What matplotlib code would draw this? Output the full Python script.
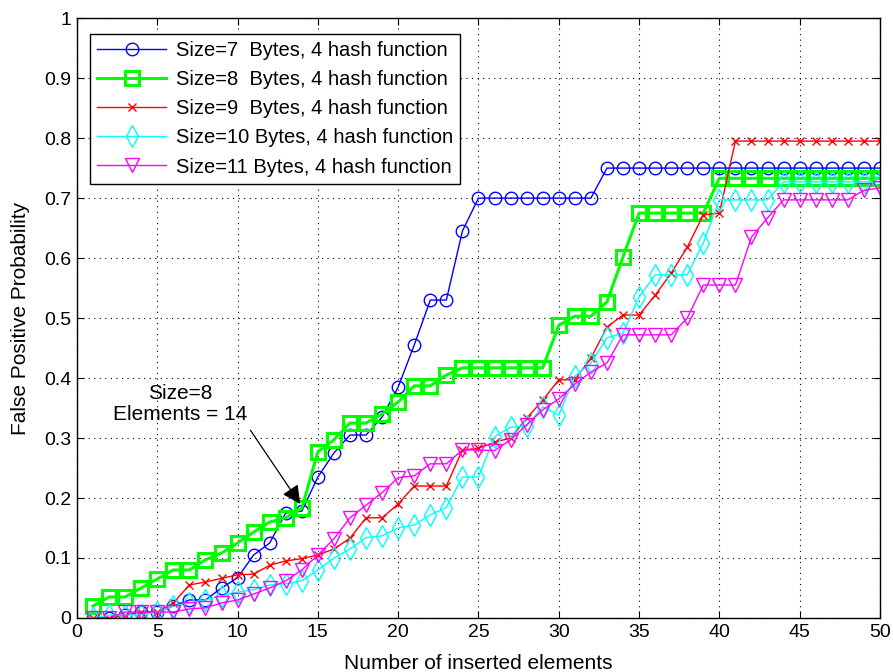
import matplotlib

matplotlib.use("Agg")
import matplotlib.pyplot as plt
import numpy as np

# inserted elements 1..50
n_elements = np.arange(1, 51)

fp_size7 = [0, 0, 0.005, 0.01, 0.01, 0.02, 0.03, 0.03, 0.05, 0.067,
            0.105, 0.125, 0.175, 0.178, 0.235, 0.275, 0.305, 0.305, 0.335, 0.385,
            0.455, 0.53, 0.53, 0.645, 0.70, 0.70, 0.70, 0.70, 0.70, 0.70,
            0.70, 0.70] + [0.75] * 18
fp_size8 = [0.02, 0.035, 0.035, 0.05, 0.065, 0.08, 0.08, 0.097, 0.108, 0.125,
            0.143, 0.16, 0.167, 0.183, 0.277, 0.297, 0.325, 0.325, 0.34, 0.36,
            0.387, 0.387, 0.405] + [0.417] * 6 + [0.488, 0.503, 0.503, 0.527, 0.602] \
           + [0.675] * 5 + [0.733] * 11
fp_size9 = [0, 0, 0.005, 0.01, 0.01, 0.025, 0.055, 0.06, 0.066, 0.072,
            0.073, 0.088, 0.095, 0.099, 0.105, 0.115, 0.133, 0.167, 0.167, 0.19,
            0.22, 0.22, 0.22, 0.28, 0.283, 0.293, 0.30, 0.333, 0.363, 0.397,
            0.397, 0.433, 0.485, 0.505, 0.505, 0.538, 0.575, 0.618, 0.672, 0.675] + [0.795] * 10
fp_size10 = [0, 0.005, 0.005, 0.005, 0.01, 0.02, 0.025, 0.03, 0.037, 0.043,
             0.047, 0.055, 0.057, 0.062, 0.08, 0.10, 0.115, 0.134, 0.137, 0.15,
             0.155, 0.172, 0.184, 0.235, 0.235, 0.302, 0.318, 0.32, 0.352, 0.338,
             0.403, 0.425, 0.467, 0.475, 0.535, 0.572, 0.572, 0.572, 0.625, 0.697,
             0.697, 0.697, 0.697] + [0.727] * 7
fp_size11 = [0, 0, 0.01, 0.01, 0.01, 0.01, 0.015, 0.017, 0.025, 0.03,
             0.04, 0.05, 0.062, 0.08, 0.105, 0.132, 0.167, 0.188, 0.209, 0.234,
             0.237, 0.257, 0.257, 0.28, 0.28, 0.279, 0.297, 0.322, 0.347, 0.365,
             0.39, 0.41, 0.425, 0.472, 0.472, 0.472, 0.472, 0.5, 0.555, 0.555,
             0.555, 0.635, 0.667, 0.697, 0.697, 0.697, 0.697, 0.697, 0.713, 0.717]

labels = [
    "Size=7  Bytes, 4 hash function",
    "Size=8  Bytes, 4 hash function",
    "Size=9  Bytes, 4 hash function",
    "Size=10 Bytes, 4 hash function",
    "Size=11 Bytes, 4 hash function",
]

plt.rcParams["font.family"] = ["Liberation Sans", "DejaVu Sans"]

fig = plt.figure(figsize=(8.93, 6.72), dpi=100, facecolor="white")
ax = fig.add_axes([0.0862, 0.0804, 0.8992, 0.8926])

ax.plot(n_elements, fp_size7, color="#0000ff", lw=1.0, marker="o", ms=9,
        mfc="none", mec="#0000ff", mew=1.0, label=labels[0])
ax.plot(n_elements, fp_size8, color="#00ff00", lw=2.2, marker="s", ms=10,
        mfc="none", mec="#00ff00", mew=2.2, label=labels[1])
ax.plot(n_elements, fp_size9, color="#ff0000", lw=1.0, marker="x", ms=6,
        mec="#ff0000", mew=1.0, label=labels[2])
ax.plot(n_elements, fp_size10, color="#00ffff", lw=1.0, marker="d", ms=11,
        mfc="none", mec="#00ffff", mew=1.0, label=labels[3])
ax.plot(n_elements, fp_size11, color="#ff00ff", lw=1.0, marker="v", ms=10,
        mfc="none", mec="#ff00ff", mew=1.0, label=labels[4])

ax.set_xlim(0, 50)
ax.set_ylim(0, 1)
ax.set_xticks(np.arange(0, 51, 5))
ax.set_yticks(np.arange(0, 1.01, 0.1))
ax.set_yticklabels(["0", "0.1", "0.2", "0.3", "0.4", "0.5", "0.6", "0.7", "0.8", "0.9", "1"])
ax.grid(True, color="black", linestyle=(0, (1, 4)), linewidth=0.8)
ax.tick_params(direction="in", length=5, labelsize=14, top=True, right=True, pad=4)
for sp in ax.spines.values():
    sp.set_linewidth(1.0)

ax.set_xlabel("Number of inserted elements", fontsize=15, labelpad=10)
ax.set_ylabel("False Positive Probability", fontsize=15, labelpad=10)

leg = ax.legend(loc="upper left", bbox_to_anchor=(0.004, 0.99), fontsize=14.5,
                frameon=True, fancybox=False, edgecolor="black", framealpha=1,
                handlelength=3.4, borderpad=0.35, labelspacing=0.5, handletextpad=0.5)
leg.get_frame().set_linewidth(1.0)

ax.text(6.4, 0.357, "Size=8\nElements = 14", ha="center", va="center",
        fontsize=15, linespacing=1.1)
ax.annotate("", xy=(13.9, 0.19), xytext=(10.8, 0.313),
            arrowprops=dict(arrowstyle="-|>", color="black", lw=0.9,
                            mutation_scale=28, shrinkA=0, shrinkB=0))

fig.savefig("out.png", dpi=100, facecolor="white")
